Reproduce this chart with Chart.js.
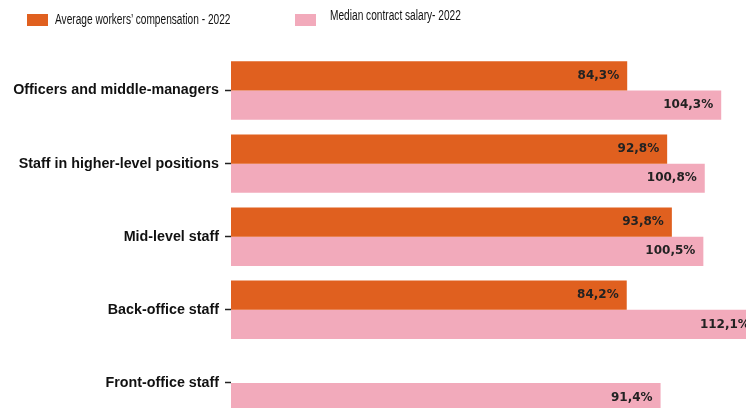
<!DOCTYPE html>
<html>
<head>
<meta charset="utf-8">
<script src="https://cdn.jsdelivr.net/npm/chart.js@4.4.1/dist/chart.umd.min.js"></script>
<style>
  html, body { margin: 0; padding: 0; background: #fff; overflow: hidden; }
  #wrap { position: relative; width: 795px; height: 434px; }
  #myChart { display: block; }
  #legend { position: absolute; top: 0; left: 0; font-family: 'Liberation Sans', Arial, sans-serif; font-size: 14px; color: #111; }
  .swatch { position: absolute; width: 21px; height: 12px; }
  .label { position: absolute; white-space: nowrap; line-height: 1; transform: scaleX(0.725); transform-origin: 0 50%; }
</style>
</head>
<body>
<div id="wrap">
  <canvas id="myChart" width="795" height="434"></canvas>
  <div id="legend"></div>
</div>
<script>
const categories = ['Officers and middle-managers', 'Staff in higher-level positions', 'Mid-level staff', 'Back-office staff', 'Front-office staff'];
const avgCompensation = [84.3, 92.8, 93.8, 84.2, null];
const medianSalary = [104.3, 100.8, 100.5, 112.1, 91.4];
const seriesNames = ['Average workers’ compensation - 2022', 'Median contract salary- 2022'];
const seriesColors = ['#e0601f', '#f2aabb'];

// legend sits above the plot, one entry per series
const legendSpots = [
    { box: [27, 14], text: [55, 12] },
    { box: [295, 14], text: [330, 8] }
];
const legend = document.getElementById('legend');
seriesNames.forEach(function (name, i) {
    const sw = document.createElement('div');
    sw.className = 'swatch';
    sw.style.left = legendSpots[i].box[0] + 'px';
    sw.style.top = legendSpots[i].box[1] + 'px';
    sw.style.background = seriesColors[i];
    legend.appendChild(sw);
    const tx = document.createElement('div');
    tx.className = 'label';
    tx.style.left = legendSpots[i].text[0] + 'px';
    tx.style.top = legendSpots[i].text[1] + 'px';
    tx.textContent = name;
    legend.appendChild(tx);
});

// value printed inside the end of each bar, decimal comma
const valueLabels = {
    id: 'valueLabels',
    afterDatasetsDraw(chart) {
        const ctx = chart.ctx;
        ctx.save();
        ctx.font = 'bold 12px "DejaVu Sans", sans-serif';
        ctx.fillStyle = '#222';
        ctx.textAlign = 'right';
        ctx.textBaseline = 'middle';
        chart.data.datasets.forEach(function (ds, i) {
            chart.getDatasetMeta(i).data.forEach(function (bar, j) {
                const v = ds.data[j];
                if (v == null) return;
                ctx.fillText(v.toFixed(1).replace('.', ',') + '%', bar.x - 8, bar.y);
            });
        });
        ctx.restore();
    }
};

const ctx = document.getElementById('myChart').getContext('2d');
const myChart = new Chart(ctx, {
    type: 'bar',
    data: {
        labels: categories,
        datasets: [{
            label: seriesNames[0],
            data: avgCompensation,
            backgroundColor: seriesColors[0],
            categoryPercentage: 0.8,
            barPercentage: 1.0
        }, {
            label: seriesNames[1],
            data: medianSalary,
            backgroundColor: seriesColors[1],
            categoryPercentage: 0.8,
            barPercentage: 1.0
        }]
    },
    options: {
        indexAxis: 'y',
        responsive: false,
        animation: false,
        layout: { padding: { top: 54, right: 0, bottom: 0, left: 0 } },
        plugins: {
            legend: { display: false },
            tooltip: { enabled: false }
        },
        scales: {
            x: {
                display: false,
                min: 0,
                max: 120
            },
            y: {
                afterFit: function (scale) { scale.width = 231; },
                border: { display: false },
                grid: {
                    offset: false,
                    drawOnChartArea: false,
                    tickLength: 6,
                    tickWidth: 1.5,
                    tickColor: '#222'
                },
                ticks: {
                    padding: 6,
                    color: '#111',
                    font: { family: '"Liberation Sans", Arial, sans-serif', size: 14.3, weight: 'bold' }
                }
            }
        }
    },
    plugins: [valueLabels]
});
</script>
</body>
</html>
